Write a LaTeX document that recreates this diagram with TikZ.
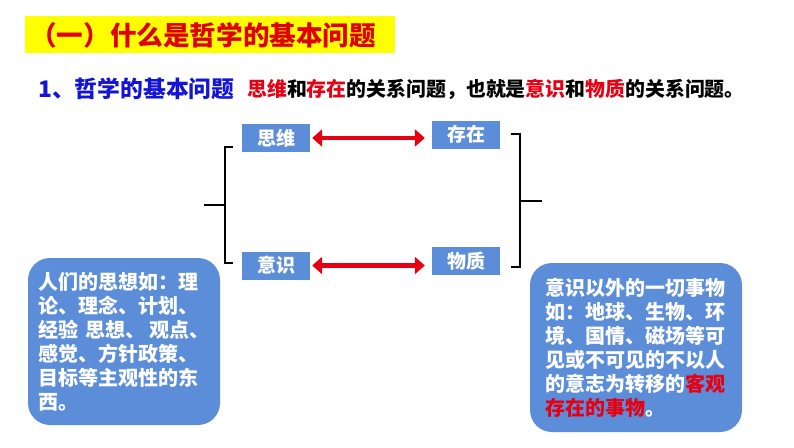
\documentclass[tikz,border=0pt]{standalone}
\usepackage{fontspec}
\setmainfont{Noto Sans CJK SC}[BoldFont={Noto Sans CJK SC Black}]
\usetikzlibrary{arrows.meta}
\definecolor{boxblue}{RGB}{91,141,216}
\definecolor{titlered}{RGB}{225,0,0}
\definecolor{txtred}{RGB}{230,0,18}
\definecolor{txtblue}{RGB}{20,20,215}
\definecolor{banner}{RGB}{255,255,0}
\begin{document}
\begin{tikzpicture}[x=1pt,y=-1pt,
  keybox/.style={fill=boxblue,text=white,font=\bfseries\fontsize{19}{22}\selectfont,minimum width=68pt,minimum height=28pt,inner sep=0pt},
  notebox/.style={fill=boxblue,rounded corners=22pt,text=white,font=\bfseries\fontsize{20}{24}\selectfont,align=left,inner sep=0pt},
  relarrow/.style={draw=txtred,line width=4.5pt,{Triangle[length=10pt,width=17pt]}-{Triangle[length=10pt,width=17pt]},shorten <=2pt,shorten >=7pt},
  bracket/.style={draw=black,line width=1.6pt}
]
\useasboundingbox (0,0) rectangle (794,447);
% title banner
\fill[banner] (25,16) rectangle (395,53);
\node[anchor=west,inner sep=0pt,text=titlered,font=\bfseries\fontsize{26.6}{30}\selectfont] (title) at (30,35) {（一）什么是哲学的基本问题};
% line 2
\node[anchor=west,inner sep=0pt,text=txtblue,font=\bfseries\fontsize{22.8}{26}\selectfont] (sub) at (38,89) {1、哲学的基本问题};
\node[anchor=west,inner sep=0pt,font=\bfseries\fontsize{19.9}{24}\selectfont] (def) at (247,89) {\textcolor{txtred}{思维}和\textcolor{txtred}{存在}的关系问题，也就是\textcolor{txtred}{意识}和\textcolor{txtred}{物质}的关系问题。};
% key boxes
\node[keybox] (siwei) at (276,138) {思维};
\node[keybox] (cunzai) at (466,134.5) {存在};
\node[keybox] (yishi) at (276,265.5) {意识};
\node[keybox] (wuzhi) at (466,261) {物质};
% arrows
\draw[relarrow] (siwei.east) -- (siwei.east -| cunzai.west);
\draw[relarrow] (yishi.east) -- (yishi.east -| wuzhi.west);
% brackets
\coordinate (lt) at (233,147);
\coordinate (lb) at (233,263);
\coordinate (lm) at (225,205);
\coordinate (lp) at (204,205);
\draw[bracket] (lt) -- (225,147) -- (225,263) -- (lb);
\draw[bracket] (lm) -- (lp);
\coordinate (rt) at (511,134);
\coordinate (rb) at (511,267);
\coordinate (rm) at (520,201);
\coordinate (rp) at (542,201);
\draw[bracket] (rt) -- (520,134) -- (520,267) -- (rb);
\draw[bracket] (rm) -- (rp);
% note boxes
\node[notebox,minimum width=192pt,minimum height=167pt,text width=172pt] (left) at (124,341.5) {人们的思想如：理\\论、理念、计划、\\\mbox{经验\hspace{0.4em}思想、\hspace{0.2em}观点、}\\感觉、方针政策、\\目标等主观性的东\\西。};
\node[notebox,minimum width=212pt,minimum height=169pt,text width=182pt] (right) at (636,347.5) {意识以外的一切事物\\如：地球、生物、环\\境、国情、磁场等可\\见或不可见的不以人\\的意志为转移的\textcolor{txtred}{客观}\\\textcolor{txtred}{存在的事物}。};
\end{tikzpicture}
\end{document}
